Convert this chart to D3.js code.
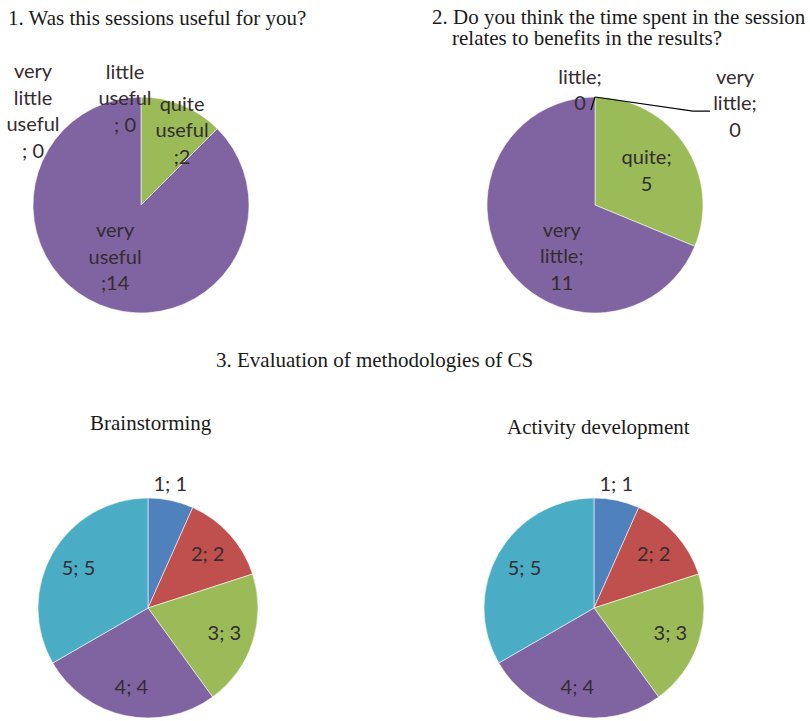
<!DOCTYPE html>
<html>
<head>
<meta charset="utf-8">
<script src="https://cdn.jsdelivr.net/npm/d3@7"></script>
<style>
  html, body { margin: 0; padding: 0; background: #fff; }
  .titulo { font-family: "Liberation Serif", "Times New Roman", serif; font-size: 21px; fill: #1a1a1a; }
  .etiqueta { font-family: Lato, "Open Sans", sans-serif; font-size: 20px; fill: #352c30; }
</style>
</head>
<body>
<svg id="lienzo" width="810" height="721"></svg>
<script>
// cuatro tortas estilo excel: dos preguntas arriba y la evaluacion de metodologias abajo

// datos
var q1Categorias = ["very little useful", "little useful", "quite useful", "very useful"];
var q1Valores = [0, 0, 2, 14];

var q2Categorias = ["very little", "little", "quite", "very little"];
var q2Valores = [0, 0, 5, 11];

var metodoCategorias = ["1", "2", "3", "4", "5"];
var brainstormingValores = [1, 2, 3, 4, 5];
var actividadValores = [1, 2, 3, 4, 5];

var titulos = {
  q1: ["1. Was this sessions useful for you?"],
  q2: ["2. Do you think the time spent in the session", "relates to benefits in the results?"],
  q3: "3. Evaluation of methodologies of CS",
  brain: "Brainstorming",
  activ: "Activity development"
};

var PALETA = ["#4F81BD", "#C0504D", "#9BBB59", "#8064A2", "#4BACC6"];
var INTERLINEA = 26.5;

var svg = d3.select("#lienzo");

// formato de etiquetas: cada torta corta las lineas distinto
function lineasPalabras(cat, v) {
  var w = cat.split(" ");
  return w.concat([(v === 0 ? "; " : ";") + v]);
}
function lineasPuntoComa(cat, v) {
  var w = cat.split(" ");
  w[w.length - 1] += ";";
  return w.concat([String(v)]);
}
function lineaSimple(cat, v) { return [cat + "; " + v]; }

// radio de la etiqueta (fraccion del radio) y corrimiento en px, por porcion
var tortas = [
  {
    cats: q1Categorias, vals: q1Valores, cx: 141, cy: 205, r: 108,
    colores: PALETA.slice(0, 4), formato: lineasPalabras,
    radios: [0.87, 0.99, 0.80, 0.53],
    corr: [[-108, 0], [-16, 0], [8, 5], [-4, -1]],
    guias: []
  },
  {
    cats: q2Categorias, vals: q2Valores, cx: 595, cy: 205, r: 108,
    colores: PALETA.slice(0, 4), formato: lineasPuntoComa,
    radios: [0.944, 1.065, 0.575, 0.57],
    corr: [[140, 0], [-15, 0], [0, 0], [18, 17]],
    // guia: desde el borde de la torta hasta cerca de la etiqueta
    guias: [
      { i: 0, fin: [-25, 8], codo: 17 },
      { i: 1, fin: [11, 20], codo: 0 }
    ]
  },
  {
    cats: metodoCategorias, vals: brainstormingValores, cx: 148, cy: 608, r: 110,
    colores: PALETA, formato: lineaSimple,
    radios: [1.15, 0.73, 0.73, 0.73, 0.73],
    corr: [[-4, 0], [0, 0], [0, 0], [0, 0], [0, 0]],
    guias: []
  },
  {
    cats: metodoCategorias, vals: actividadValores, cx: 594, cy: 608, r: 110,
    colores: PALETA, formato: lineaSimple,
    radios: [1.15, 0.73, 0.73, 0.73, 0.73],
    corr: [[-4, 0], [0, 0], [0, 0], [0, 0], [0, 0]],
    guias: []
  }
];

var pie = d3.pie().sort(null).value(function (d) { return d; });

function dibujarTorta(t) {
  var g = svg.append("g").attr("transform", "translate(" + t.cx + "," + t.cy + ")");
  var arcos = pie(t.vals);
  var arco = d3.arc().innerRadius(0).outerRadius(t.r);

  g.selectAll("path.porcion")
    .data(arcos)
    .enter().append("path")
    .attr("class", "porcion")
    .attr("d", arco)
    .attr("fill", function (d, i) { return t.colores[i]; })
    .attr("stroke", function (d) { return d.value ? "#ffffff" : "none"; })
    .attr("stroke-width", 0.8)
    .attr("stroke-opacity", 0.7);

  var pos = arcos.map(function (d, i) {
    var a = (d.startAngle + d.endAngle) / 2;
    var rr = t.r * t.radios[i];
    return [Math.sin(a) * rr + t.corr[i][0], -Math.cos(a) * rr + t.corr[i][1]];
  });

  t.guias.forEach(function (gu) {
    var d = arcos[gu.i];
    var a = (d.startAngle + d.endAngle) / 2;
    var ini = [Math.sin(a) * t.r, -Math.cos(a) * t.r];
    var fin = [pos[gu.i][0] + gu.fin[0], pos[gu.i][1] + gu.fin[1]];
    var puntos = [ini, [fin[0] - gu.codo, fin[1]], fin];
    g.append("path")
      .attr("d", d3.line()(puntos))
      .attr("fill", "none")
      .attr("stroke", "#000")
      .attr("stroke-width", 1.2);
  });

  arcos.forEach(function (d, i) {
    var lineas = t.formato(t.cats[i], d.value);
    var txt = g.append("text")
      .attr("class", "etiqueta")
      .attr("text-anchor", "middle")
      .attr("x", pos[i][0])
      .attr("y", pos[i][1] - (lineas.length - 1) * INTERLINEA / 2)
      .attr("dy", "0.35em");
    lineas.forEach(function (l, k) {
      txt.append("tspan")
        .attr("x", pos[i][0])
        .attr("dy", k === 0 ? "0.35em" : INTERLINEA)
        .text(l);
    });
  });
}

tortas.forEach(dibujarTorta);

// titulos
svg.append("text").attr("class", "titulo").attr("x", 8).attr("y", 25).text(titulos.q1[0]);
svg.append("text").attr("class", "titulo").attr("x", 432).attr("y", 24).text(titulos.q2[0]);
svg.append("text").attr("class", "titulo").attr("x", 452).attr("y", 45).text(titulos.q2[1]);
svg.append("text").attr("class", "titulo").attr("x", 216).attr("y", 367).text(titulos.q3);
svg.append("text").attr("class", "titulo").attr("x", 90).attr("y", 430).text(titulos.brain);
svg.append("text").attr("class", "titulo").attr("x", 507).attr("y", 434).text(titulos.activ);
</script>
</body>
</html>
